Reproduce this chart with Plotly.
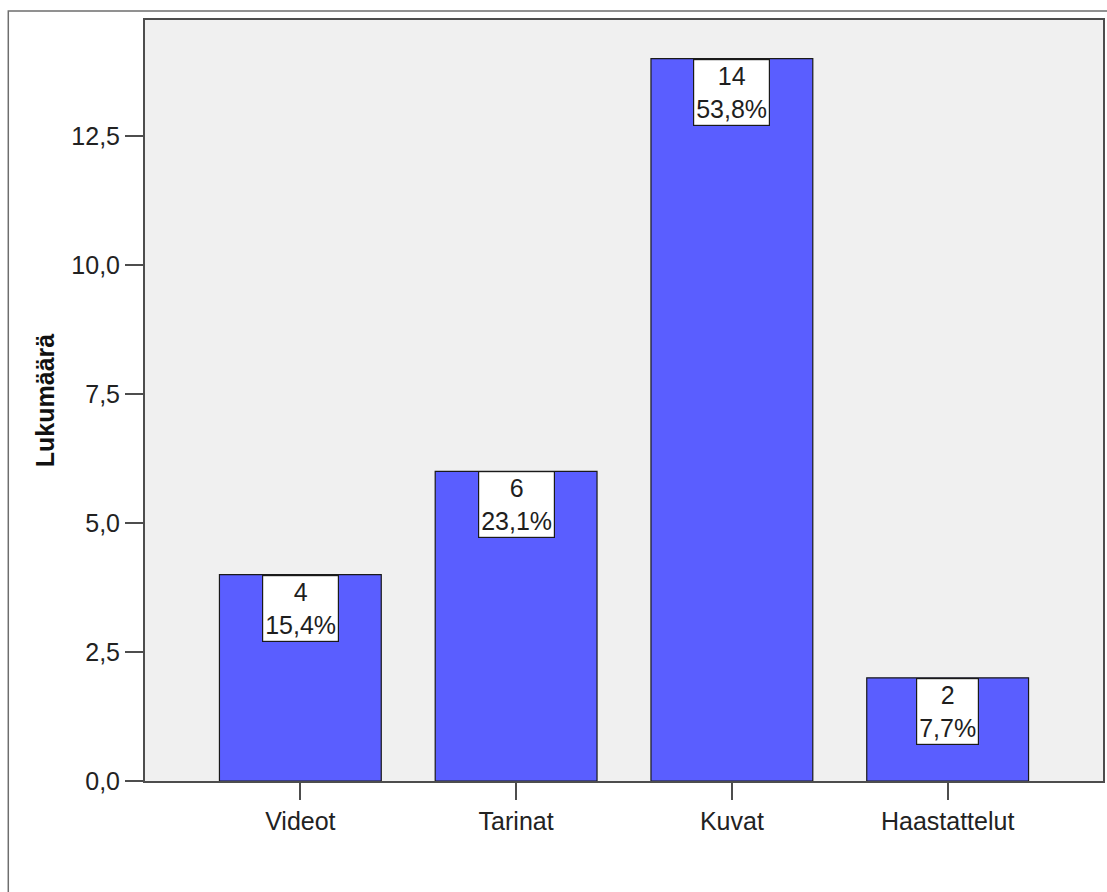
import plotly.graph_objects as go

# Response categories and their counts
categories = ["Videot", "Tarinat", "Kuvat", "Haastattelut"]
counts = [4, 6, 14, 2]
percent_labels = ["15,4%", "23,1%", "53,8%", "7,7%"]

# Y axis ticks (decimal comma)
y_tickvals = [0.0, 2.5, 5.0, 7.5, 10.0, 12.5]
y_ticktext = ["0,0", "2,5", "5,0", "7,5", "10,0", "12,5"]

FONT = "Liberation Sans, Arial, sans-serif"
BAR_COLOR = "#5A5EFF"
AXIS_COLOR = "#4d4d4d"

fig = go.Figure()
fig.add_trace(go.Bar(
    x=categories,
    y=counts,
    width=0.75,
    marker=dict(color=BAR_COLOR, line=dict(color="#1a1a1a", width=1.2)),
    hoverinfo="x+y",
))

# Count / percentage boxes hanging from the top of each bar
for cat, n, pct in zip(categories, counts, percent_labels):
    fig.add_annotation(
        x=cat, y=n, xref="x", yref="y",
        text=f"{n}<br>{pct}",
        showarrow=False,
        xanchor="center", yanchor="top",
        font=dict(family=FONT, size=25, color="#1e1e1e"),
        bgcolor="white",
        bordercolor="#1a1a1a", borderwidth=1.2, borderpad=2,
        align="center",
    )

# Thin outer frame around the chart
fig.add_shape(
    type="rect", xref="paper", yref="paper",
    x0=-0.1427, y0=-0.3, x1=1.2, y1=1.0118,
    line=dict(color="#6e6e6e", width=1.5),
    fillcolor="rgba(0,0,0,0)", layer="below",
)

fig.update_layout(
    width=1107, height=892,
    margin=dict(l=145, r=2, t=20, b=111),
    paper_bgcolor="white",
    plot_bgcolor="#F0F0F0",
    showlegend=False,
    font=dict(family=FONT, size=25, color="#222222"),
    xaxis=dict(
        type="category",
        range=[-0.72, 3.72],
        showgrid=False, zeroline=False,
        showline=True, linecolor=AXIS_COLOR, linewidth=2, mirror=True,
        ticks="outside", ticklen=17, tickwidth=2, tickcolor=AXIS_COLOR,
        tickfont=dict(family=FONT, size=25, color="#222222"),
    ),
    yaxis=dict(
        range=[0, 14.75],
        tickvals=y_tickvals, ticktext=y_ticktext,
        showgrid=False, zeroline=False,
        showline=True, linecolor=AXIS_COLOR, linewidth=2, mirror=True,
        ticks="outside", ticklen=18, tickwidth=2, tickcolor=AXIS_COLOR,
        tickfont=dict(family=FONT, size=25, color="#222222"),
        title=dict(text="<b>Lukumäärä</b>", font=dict(family=FONT, size=25, color="#111111"),
                   standoff=10),
    ),
)

fig.write_html("out.html")
